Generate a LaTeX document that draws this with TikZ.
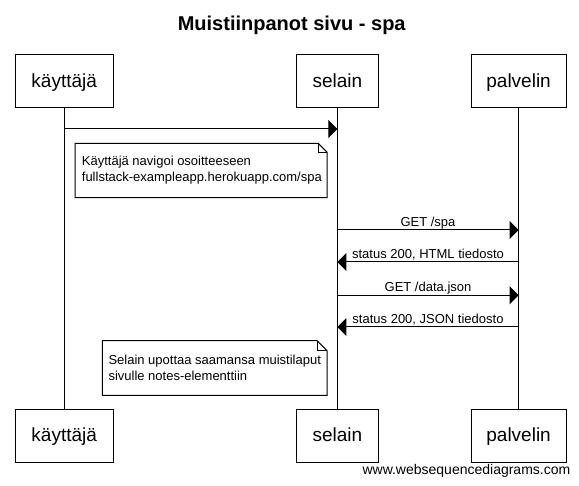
\documentclass[tikz,border=0pt]{standalone}
\usepackage{fontspec}
\setmainfont{Liberation Sans}
\usetikzlibrary{arrows.meta}
\begin{document}
\begin{tikzpicture}[x=1pt,y=1pt,
  pbox/.style={draw, line width=1pt, inner sep=0pt, minimum height=53pt,
    text height=14pt, text depth=2pt, font=\fontsize{19}{22}\selectfont},
  msg/.style={line width=1pt, -{Triangle[length=9pt,width=18pt]}},
  lbl/.style={font=\fontsize{13}{16}\selectfont, anchor=base, inner sep=0pt},
  notebox/.style={inner sep=0pt, anchor=north west},
  notetext/.style={font=\fontsize{13}{16}\selectfont, align=left, anchor=north west, inner sep=0pt},
  noteline/.style={line width=1pt},
  life/.style={line width=1pt}]
\useasboundingbox (0,0) rectangle (579,-486);
\fill[white] (0,0) rectangle (579,-486);

\node[font=\bfseries\fontsize{20}{24}\selectfont, anchor=base, inner sep=0pt] (title) at (291.7,-31) {Muistiinpanot sivu - spa};

% participants
\node[pbox, minimum width=98pt] (kt) at (64.2,-81.5) {käyttäjä};
\node[pbox, minimum width=81.5pt] (st) at (337.4,-81.5) {selain};
\node[pbox, minimum width=95pt] (pt) at (518.6,-81.5) {palvelin};
\node[pbox, minimum width=98pt] (kb) at (64.2,-435.7) {käyttäjä};
\node[pbox, minimum width=81.5pt] (sb) at (337.4,-435.7) {selain};
\node[pbox, minimum width=95pt] (pb) at (518.6,-435.7) {palvelin};

% lifelines
\draw[life] (kt.south) -- (kb.north);
\draw[life] (st.south) -- (sb.north);
\draw[life] (pt.south) -- (pb.north);

% message end points
\coordinate (m1a) at (64.2,-129);
\coordinate (m1b) at (337.4,-129);
\coordinate (m2a) at (337.4,-230);
\coordinate (m2b) at (518.6,-230);
\coordinate (m3a) at (518.6,-262);
\coordinate (m3b) at (337.4,-262);
\coordinate (m4a) at (337.4,-295.3);
\coordinate (m4b) at (518.6,-295.3);
\coordinate (m5a) at (518.6,-327);
\coordinate (m5b) at (337.4,-327);

\draw[msg] (m1a) -- (m1b);
\draw[msg] (m2a) -- node[lbl, yshift=3.5pt] (l2) {GET /spa} (m2b);
\draw[msg] (m3a) -- node[lbl, yshift=3.5pt] (l3) {status 200, HTML tiedosto} (m3b);
\draw[msg] (m4a) -- node[lbl, yshift=3.5pt] (l4) {GET /data.json} (m4b);
\draw[msg] (m5a) -- node[lbl, yshift=3.5pt] (l5) {status 200, JSON tiedosto} (m5b);

% note 1
\node[notebox, minimum width=251.7pt, minimum height=54pt] (n1) at (75,-143.3) {};
\draw[noteline] (n1.north west) -- ([xshift=-9pt]n1.north east) -- ([yshift=-9pt]n1.north east)
  -- (n1.south east) -- (n1.south west) -- cycle;
\draw[noteline] ([xshift=-9pt]n1.north east) |- ([yshift=-9pt]n1.north east);
\node[notetext] (n1t) at (81.7,-152.5) {\rule{0pt}{13pt}Käyttäjä navigoi osoitteeseen\\fullstack-exampleapp.herokuapp.com/spa};

% note 2
\node[notebox, minimum width=224.4pt, minimum height=54.3pt] (n2) at (102.3,-340.7) {};
\draw[noteline] (n2.north west) -- ([xshift=-10pt]n2.north east) -- ([yshift=-10pt]n2.north east)
  -- (n2.south east) -- (n2.south west) -- cycle;
\draw[noteline] ([xshift=-10pt]n2.north east) |- ([yshift=-10pt]n2.north east);
\node[notetext] (n2t) at (108.3,-351) {\rule{0pt}{13pt}Selain upottaa saamansa muistilaput\\sivulle notes-elementtiin};

% footer
\node[font=\fontsize{14}{16}\selectfont, anchor=base east, inner sep=0pt] (wsd) at (570.5,-475) {www.websequencediagrams.com};
\end{tikzpicture}
\end{document}
